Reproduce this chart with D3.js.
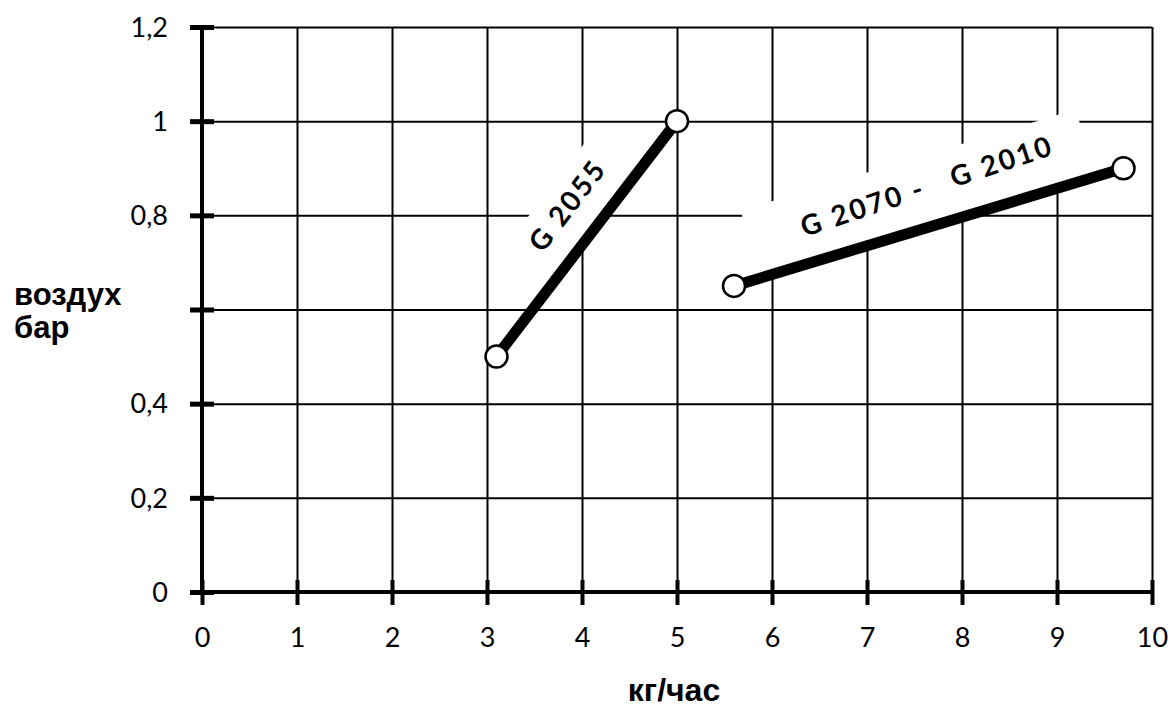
<!DOCTYPE html>
<html><head><meta charset="utf-8">
<script src="https://cdn.jsdelivr.net/npm/d3@7/dist/d3.min.js"></script>
<style>body{margin:0;background:#fff}svg{display:block}</style>
</head><body>
<svg id="chart" width="1176" height="709"></svg>
<script>
// ---- data ----
const xTicks = [0, 1, 2, 3, 4, 5, 6, 7, 8, 9, 10];
const xTickLabels = ["0", "1", "2", "3", "4", "5", "6", "7", "8", "9", "10"];
const yTicks = [0, 0.2, 0.4, 0.6, 0.8, 1.0, 1.2];
const yTickLabels = ["0", "0,2", "0,4", "", "0,8", "1", "1,2"];
const seriesNames = ["G 2055", "G 2070 -   G 2010"];
const g2055X = [3.1, 5.0];
const g2055Y = [0.5, 1.0];
const g2070X = [5.6, 9.7];
const g2070Y = [0.65, 0.9];
const yTitleLines = ["воздух", "бар"];
const xTitle = "кг/час";

// ---- layout ----
const svg = d3.select("#chart");
const L = 202, R = 1152, T = 27, B = 592;
const x = d3.scaleLinear().domain([0, 10]).range([L, R]);
const y = d3.scaleLinear().domain([0, 1.2]).range([B, T]);
const tickFont = "Lato, 'Open Sans', sans-serif";

// grid
svg.append("g").attr("transform", `translate(0,${B})`)
  .call(d3.axisBottom(x).tickValues(xTicks.slice(1)).tickSize(-(B - T)).tickFormat(""))
  .call(g => g.select(".domain").remove())
  .call(g => g.selectAll("line").attr("stroke", "#000").attr("stroke-width", 2));
svg.append("g").attr("transform", `translate(${L},0)`)
  .call(d3.axisLeft(y).tickValues(yTicks.slice(1)).tickSize(-(R - L)).tickFormat(""))
  .call(g => g.select(".domain").remove())
  .call(g => g.selectAll("line").attr("stroke", "#000").attr("stroke-width", 2));

// y axis
svg.append("g").attr("transform", `translate(${L},0)`)
  .call(d3.axisLeft(y).tickValues(yTicks).tickSize(12).tickPadding(22)
    .tickFormat((d, i) => yTickLabels[i]))
  .call(g => g.select(".domain").attr("d", `M0,${T}V${B}`).attr("stroke", "#000").attr("stroke-width", 4))
  .call(g => g.selectAll(".tick line").attr("x1", 12).attr("stroke", "#000").attr("stroke-width", 5))
  .call(g => g.selectAll(".tick text").attr("font-family", tickFont).attr("font-size", 27)
    .attr("fill", "#000").attr("dy", "0.34em"));

// x axis
svg.append("g").attr("transform", `translate(0,${B})`)
  .call(d3.axisBottom(x).tickValues(xTicks).tickSize(13).tickPadding(23)
    .tickFormat((d, i) => xTickLabels[i]))
  .call(g => g.select(".domain").attr("d", `M${L - 12},0H${R}`).attr("stroke", "#000").attr("stroke-width", 4))
  .call(g => g.selectAll(".tick line").attr("y1", -12).attr("stroke", "#000").attr("stroke-width", 4))
  .call(g => g.selectAll(".tick text").attr("font-family", tickFont).attr("font-size", 27)
    .attr("fill", "#000"));

// axis titles
const yt = svg.append("text").attr("font-family", "'Liberation Sans', Arial, sans-serif")
  .attr("font-weight", "bold").attr("font-size", 31).attr("fill", "#000");
yTitleLines.forEach((s, i) => yt.append("tspan").attr("x", 14).attr("y", 305 + i * 33).text(s));
svg.append("text").attr("x", 674).attr("y", 701).attr("text-anchor", "middle")
  .attr("font-family", "'Liberation Sans', Arial, sans-serif").attr("font-weight", "bold")
  .attr("font-size", 32).attr("fill", "#000").text(xTitle);

// series
const series = [
  { name: seriesNames[0], xs: g2055X, ys: g2055Y, t: 0.55, off: 36, rot: 0, box: [108, 242, 0, 60] },
  { name: seriesNames[1], xs: g2070X, ys: g2070Y, t: 0.525, off: 40, rot: -1.5, box: [28, 378, 0, 70] }
];
const line = d3.line().x(d => x(d[0])).y(d => y(d[1]));

series.forEach(s => {
  const pts = s.xs.map((v, i) => [v, s.ys[i]]);
  const x0 = x(pts[0][0]), y0 = y(pts[0][1]), x1 = x(pts[1][0]), y1 = y(pts[1][1]);
  const ang = Math.atan2(y1 - y0, x1 - x0) * 180 / Math.PI;
  const len = Math.hypot(x1 - x0, y1 - y0);
  const g = svg.append("g").attr("transform", `translate(${x0},${y0}) rotate(${ang})`);
  // white label background
  g.append("rect").attr("x", s.box[0]).attr("y", -s.box[3])
    .attr("width", s.box[1] - s.box[0]).attr("height", s.box[3] - s.box[2]).attr("fill", "#fff");
  const tx = s.t * len, ty = -s.off;
  g.append("text").attr("x", tx).attr("y", ty).attr("dy", "0.36em")
    .attr("transform", `rotate(${s.rot},${tx},${ty})`)
    .attr("text-anchor", "middle").attr("font-family", tickFont).attr("font-weight", "bold")
    .attr("font-size", 28).attr("letter-spacing", 2.5).attr("xml:space", "preserve")
    .style("white-space", "pre").attr("fill", "#000").text(s.name);
  svg.append("path").datum(pts).attr("d", line).attr("fill", "none")
    .attr("stroke", "#000").attr("stroke-width", 11);
  svg.selectAll(null).data(pts).enter().append("circle")
    .attr("cx", d => x(d[0])).attr("cy", d => y(d[1])).attr("r", 11)
    .attr("fill", "#fff").attr("stroke", "#000").attr("stroke-width", 2.5);
});
</script>
</body></html>
